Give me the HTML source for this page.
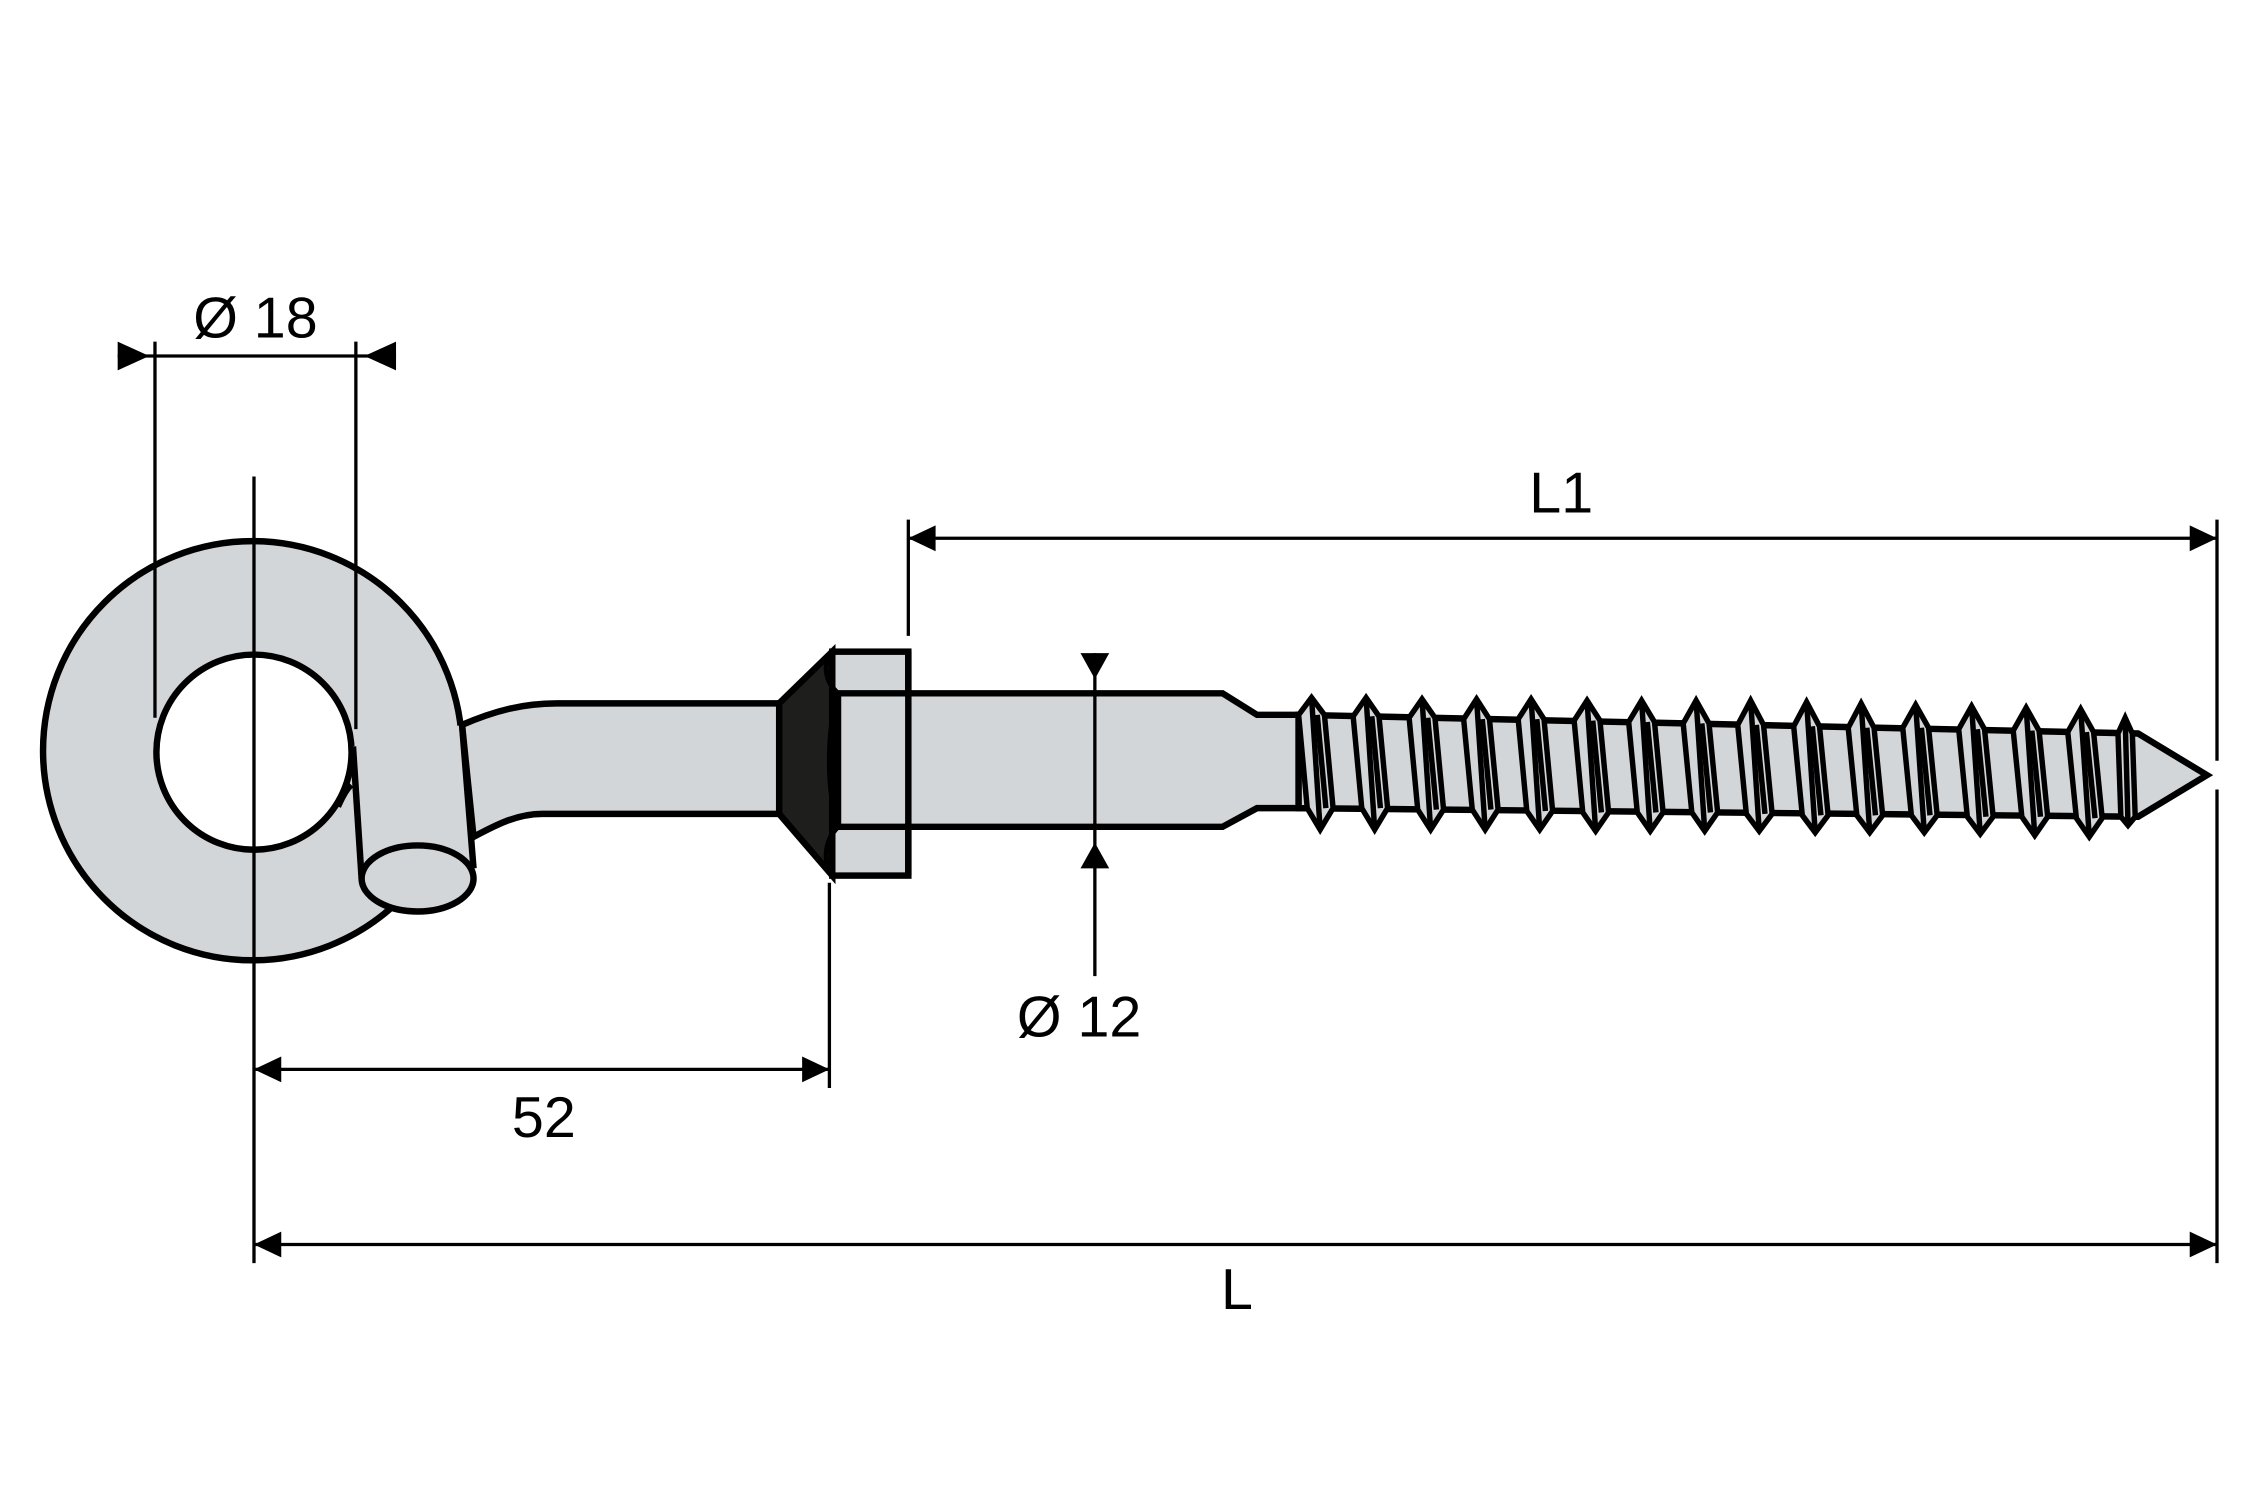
<!DOCTYPE html>
<html><head><style>html,body{margin:0;padding:0;background:#fff}svg{display:block}</style></head>
<body>
<svg width="2250" height="1500" viewBox="0 0 1568 1045" preserveAspectRatio="none" xmlns="http://www.w3.org/2000/svg">
<g fill="#d3d6d9" stroke="#000" stroke-width="4.5" stroke-linejoin="miter">
  <!-- eye -->
  <circle cx="176" cy="523" r="146"/>
  <circle cx="177" cy="524" r="68" fill="#fff"/>
  <path d="M246,520 L252,612 L330,605 L322,505 Z" stroke="none"/>
  <path d="M246,520 L252,612" fill="none"/>
  <path d="M245,547 C240,552 237,560 236,562" fill="none" stroke-width="3.5"/>
  <!-- shank -->
  <path d="M322,505 C345,495 365,490 388,490 L545,490 L545,567 L378,567 C360,567 345,575 330,583 Z"/>
  <path d="M322,505 L330,605" fill="none"/>
  <ellipse cx="291" cy="612" rx="39" ry="23"/>
  <!-- washer -->
  <path d="M543,490 L580,454 L580,610 L543,567 Z" fill="#1e1e1c"/>
  <rect x="580" y="454" width="53" height="156"/>
  <path d="M580,454 C573,462 575,475 584,483 M580,610 C573,600 575,585 584,576 M584,483 C576,510 576,550 584,576" fill="none" stroke-width="3.5"/>
  <!-- shaft -->
  <path d="M584,483 L852,483 L876,498 L905,498 L905,563 L876,563 L852,576 L584,576 Z"/>
  <line x1="633" y1="454" x2="633" y2="610"/>
  <!-- thread core -->
  <path d="M905,498 L1490,511 L1538,540 L1490,569 L905,563 Z"/>
</g>
<g fill="#d3d6d9" stroke="#000" stroke-width="3.8" stroke-linejoin="miter">
  <polygon points="905,498 914,486 923,498 929,563 920,578 911,563"/><line x1="914" y1="486" x2="920" y2="578"/><line x1="918" y1="498" x2="924" y2="563"/>
  <polygon points="943,499 952,486 961,499 967,563 958,578 949,563"/><line x1="952" y1="486" x2="958" y2="578"/><line x1="956" y1="499" x2="962" y2="563"/>
  <polygon points="982,500 991,487 1000,500 1006,564 997,578 988,564"/><line x1="991" y1="487" x2="997" y2="578"/><line x1="995" y1="500" x2="1001" y2="564"/>
  <polygon points="1020,501 1029,487 1038,501 1044,564 1035,578 1026,564"/><line x1="1029" y1="487" x2="1035" y2="578"/><line x1="1033" y1="501" x2="1039" y2="564"/>
  <polygon points="1058,501 1067,487 1076,501 1082,565 1073,578 1064,565"/><line x1="1067" y1="487" x2="1073" y2="578"/><line x1="1071" y1="501" x2="1077" y2="565"/>
  <polygon points="1097,502 1106,488 1115,502 1121,566 1112,579 1103,566"/><line x1="1106" y1="488" x2="1112" y2="579"/><line x1="1110" y1="502" x2="1116" y2="566"/>
  <polygon points="1135,503 1144,488 1153,503 1159,566 1150,579 1141,566"/><line x1="1144" y1="488" x2="1150" y2="579"/><line x1="1148" y1="503" x2="1154" y2="566"/>
  <polygon points="1173,504 1182,488 1191,504 1197,566 1188,579 1179,566"/><line x1="1182" y1="488" x2="1188" y2="579"/><line x1="1186" y1="504" x2="1192" y2="566"/>
  <polygon points="1211,505 1220,488 1229,505 1235,567 1226,579 1217,567"/><line x1="1220" y1="488" x2="1226" y2="579"/><line x1="1224" y1="505" x2="1230" y2="567"/>
  <polygon points="1250,506 1259,489 1268,506 1274,568 1265,580 1256,568"/><line x1="1259" y1="489" x2="1265" y2="580"/><line x1="1263" y1="506" x2="1269" y2="568"/>
  <polygon points="1288,507 1297,490 1306,507 1312,568 1303,580 1294,568"/><line x1="1297" y1="490" x2="1303" y2="580"/><line x1="1301" y1="507" x2="1307" y2="568"/>
  <polygon points="1326,507 1335,491 1344,507 1350,568 1341,580 1332,568"/><line x1="1335" y1="491" x2="1341" y2="580"/><line x1="1339" y1="507" x2="1345" y2="568"/>
  <polygon points="1365,508 1374,492 1383,508 1389,569 1380,581 1371,569"/><line x1="1374" y1="492" x2="1380" y2="581"/><line x1="1378" y1="508" x2="1384" y2="569"/>
  <polygon points="1403,509 1412,493 1421,509 1427,569 1418,582 1409,569"/><line x1="1412" y1="493" x2="1418" y2="582"/><line x1="1416" y1="509" x2="1422" y2="569"/>
  <polygon points="1441,510 1450,494 1459,510 1465,570 1456,583 1447,570"/><line x1="1450" y1="494" x2="1456" y2="583"/><line x1="1454" y1="510" x2="1460" y2="570"/>
  <polygon points="1476,511 1481,500 1486,511 1488,569 1483,575 1478,569"/><line x1="1481" y1="500" x2="1483" y2="575"/>
</g>
<!-- dimension lines -->
<g stroke="#000" stroke-width="2.3" fill="none">
  <line x1="177" y1="332" x2="177" y2="880"/>
  <line x1="108" y1="238" x2="108" y2="500"/>
  <line x1="248" y1="238" x2="248" y2="508"/>
  <line x1="82" y1="248" x2="276" y2="248"/>
  <line x1="633" y1="362" x2="633" y2="443"/>
  <line x1="1545" y1="362" x2="1545" y2="530"/>
  <line x1="1545" y1="550" x2="1545" y2="880"/>
  <line x1="633" y1="375" x2="1545" y2="375"/>
  <line x1="763" y1="455" x2="763" y2="680"/>
  <line x1="578" y1="615" x2="578" y2="758"/>
  <line x1="177" y1="745" x2="578" y2="745"/>
  <line x1="177" y1="867" x2="1545" y2="867"/>
</g>
<g fill="#000">
  <polygon points="82,238 82,258 104,248"/>
  <polygon points="276,238 276,258 254,248"/>
  <polygon points="633,375 652,366 652,384"/>
  <polygon points="1545,375 1526,366 1526,384"/>
  <polygon points="753,455 773,455 763,473"/>
  <polygon points="753,605 773,605 763,587"/>
  <polygon points="177,745 196,736 196,754"/>
  <polygon points="578,745 559,736 559,754"/>
  <polygon points="177,867 196,858 196,876"/>
  <polygon points="1545,867 1526,858 1526,876"/>
</g>
<g font-family="Liberation Sans, sans-serif" font-size="40" fill="#000" text-anchor="middle">
  <text x="178" y="235">Ø 18</text>
  <text x="1088" y="357">L1</text>
  <text x="752" y="722">Ø 12</text>
  <text x="379" y="792">52</text>
  <text x="862" y="912">L</text>
</g>
</svg>
</body></html>
